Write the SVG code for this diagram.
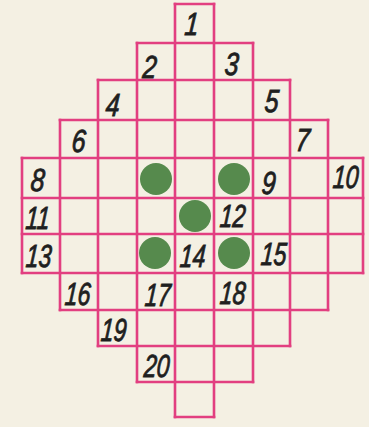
<svg xmlns="http://www.w3.org/2000/svg" width="369" height="427" viewBox="0 0 369 427">
  <style>
    .g { stroke: #e23f80; stroke-width: 2.6; fill: none; stroke-linecap: square; }
    .dot { fill: #568a4d; }
    .n { font-family: "Liberation Sans", Arial, sans-serif; font-style: italic; font-size: 32px; fill: #1f1f1f; stroke: #1f1f1f; stroke-width: 0.9; text-anchor: middle; }
  </style>
  <rect x="0" y="0" width="369" height="427" fill="#f4f0e3"/>
  <g id="grid" class="g">
    <path d="M175 4H214 M137 43H253 M98 80H290 M60 120H328 M22 158H363 M22 198H363 M22 234H363 M22 273H363 M60 310H328 M98 346H290 M137 382H253 M175 417H214"/>
    <path d="M22 158V273 M363 158V273 M60 120V310 M328 120V310 M98 80V346 M290 80V346 M137 43V382 M253 43V382 M175 4V417 M214 4V417"/>
  </g>
  <g id="dots">
    <circle class="dot" cx="156" cy="179" r="16"/>
    <circle class="dot" cx="234" cy="179" r="16"/>
    <circle class="dot" cx="195" cy="216" r="16"/>
    <circle class="dot" cx="155" cy="253" r="16"/>
    <circle class="dot" cx="234" cy="253" r="16"/>
  </g>
  <g id="labels">
    <text class="n" transform="translate(191,35) scale(0.78,1) skewX(-6)">1</text>
    <text class="n" transform="translate(149,78) scale(0.78,1) skewX(-6)">2</text>
    <text class="n" transform="translate(231,75) scale(0.78,1) skewX(-6)">3</text>
    <text class="n" transform="translate(112,116) scale(0.78,1) skewX(-6)">4</text>
    <text class="n" transform="translate(271,112) scale(0.78,1) skewX(-6)">5</text>
    <text class="n" transform="translate(78,152) scale(0.78,1) skewX(-6)">6</text>
    <text class="n" transform="translate(302,151) scale(0.78,1) skewX(-6)">7</text>
    <text class="n" transform="translate(37,191) scale(0.78,1) skewX(-6)">8</text>
    <text class="n" transform="translate(268,194) scale(0.78,1) skewX(-6)">9</text>
    <text class="n" transform="translate(345,188) scale(0.72,1) skewX(-6)">10</text>
    <text class="n" transform="translate(37,229) scale(0.72,1) skewX(-6)">11</text>
    <text class="n" transform="translate(232,227) scale(0.72,1) skewX(-6)">12</text>
    <text class="n" transform="translate(38,267) scale(0.72,1) skewX(-6)">13</text>
    <text class="n" transform="translate(192,267) scale(0.72,1) skewX(-6)">14</text>
    <text class="n" transform="translate(273,265) scale(0.72,1) skewX(-6)">15</text>
    <text class="n" transform="translate(77,305) scale(0.72,1) skewX(-6)">16</text>
    <text class="n" transform="translate(157,306) scale(0.72,1) skewX(-6)">17</text>
    <text class="n" transform="translate(232,304) scale(0.72,1) skewX(-6)">18</text>
    <text class="n" transform="translate(113,341) scale(0.72,1) skewX(-6)">19</text>
    <text class="n" transform="translate(156,377) scale(0.72,1) skewX(-6)">20</text>
  </g>
</svg>
